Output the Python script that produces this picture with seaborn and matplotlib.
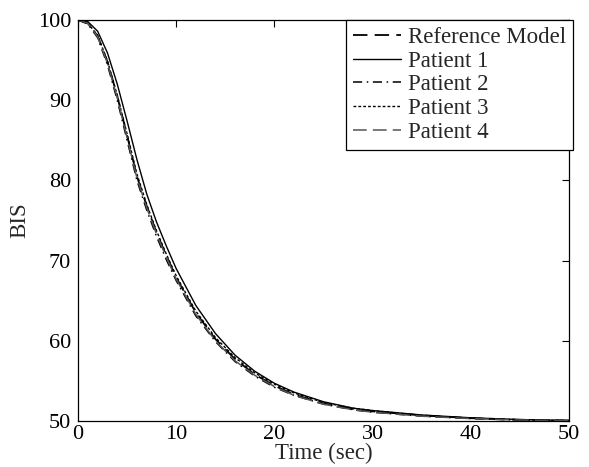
import numpy as np
import pandas as pd
import matplotlib
matplotlib.use("Agg")
import matplotlib.pyplot as plt
import seaborn as sns

time = [0, 1, 2, 3, 4, 5, 6, 7, 8, 9, 10, 12, 14, 16, 18, 20, 22, 25, 28, 30, 35, 40, 45, 50]
ref_model = [100, 99.6, 98.0, 94.8, 90.5, 85.6, 80.5, 76.8, 73.5, 70.6, 67.9, 63.5, 60.2, 57.7, 55.8, 54.4, 53.3, 52.2, 51.5, 51.2, 50.7, 50.35, 50.15, 50.05]
patient1 = [100, 99.8, 98.6, 95.9, 92.0, 87.4, 82.6, 78.3, 74.8, 71.8, 69.0, 64.4, 60.9, 58.2, 56.2, 54.7, 53.6, 52.4, 51.6, 51.3, 50.75, 50.4, 50.18, 50.07]
patient2 = [100, 99.5, 97.8, 94.4, 90.0, 85.0, 80.0, 76.3, 73.0, 70.1, 67.5, 63.1, 59.9, 57.4, 55.6, 54.2, 53.2, 52.1, 51.4, 51.1, 50.6, 50.3, 50.12, 50.04]
patient3 = [100, 99.6, 98.1, 94.9, 90.6, 85.8, 80.8, 77.0, 73.7, 70.8, 68.1, 63.7, 60.4, 57.9, 56.0, 54.6, 53.5, 52.3, 51.6, 51.3, 50.7, 50.35, 50.15, 50.05]
patient4 = [100, 99.6, 97.9, 94.6, 90.3, 85.3, 80.3, 76.6, 73.3, 70.4, 67.7, 63.3, 60.0, 57.5, 55.7, 54.3, 53.2, 52.1, 51.4, 51.1, 50.6, 50.3, 50.12, 50.04]

labels = ["Reference Model", "Patient 1", "Patient 2", "Patient 3", "Patient 4"]
series = [ref_model, patient1, patient2, patient3, patient4]
styles = [(0, (8, 4)), "-", (0, (6, 3, 1, 3)), (0, (2, 1.5)), (0, (9, 4))]
widths = [1.3, 1.0, 1.1, 1.0, 1.1]
colors = ["black", "black", "black", "black", "#555555"]

sns.set_style("white")
plt.rcParams["font.family"] = ["Liberation Serif", "DejaVu Serif"]

fig = plt.figure(figsize=(5.89, 4.67), dpi=100)
ax = fig.add_axes([78 / 589, 46 / 467, 491 / 589, 401 / 467])

for lab, vals, ls, c, w in zip(labels, series, styles, colors, widths):
    df = pd.DataFrame({"t": time, "bis": vals})
    sns.lineplot(data=df, x="t", y="bis", ax=ax, color=c, linestyle=ls, linewidth=w, label=lab)

ax.set_xlim(0, 50)
ax.set_ylim(50, 100)
ax.set_xticks([0, 10, 20, 30, 40, 50])
ax.set_yticks([50, 60, 70, 80, 90, 100])
ax.set_xlabel("Time (sec)", fontsize=16.5, labelpad=-1)
ax.set_ylabel("BIS", fontsize=16.5, labelpad=5)
ax.tick_params(direction="in", top=True, right=True, length=5, width=0.8, labelsize=16, colors="black")
ax.tick_params(axis="x", pad=3)
ax.tick_params(axis="y", pad=5)
for s in ax.spines.values():
    s.set_color("black")
    s.set_linewidth(0.9)

leg = ax.legend(loc="upper left", bbox_to_anchor=(346 / 589, 1 - 20 / 467), bbox_transform=fig.transFigure,
                borderaxespad=0, fancybox=False, framealpha=1, edgecolor="black", fontsize=16.5,
                handlelength=2.1, handletextpad=0.3, labelspacing=0.12, borderpad=0.3)
leg.get_frame().set_linewidth(0.9)

fig.savefig("out.png", dpi=100)
